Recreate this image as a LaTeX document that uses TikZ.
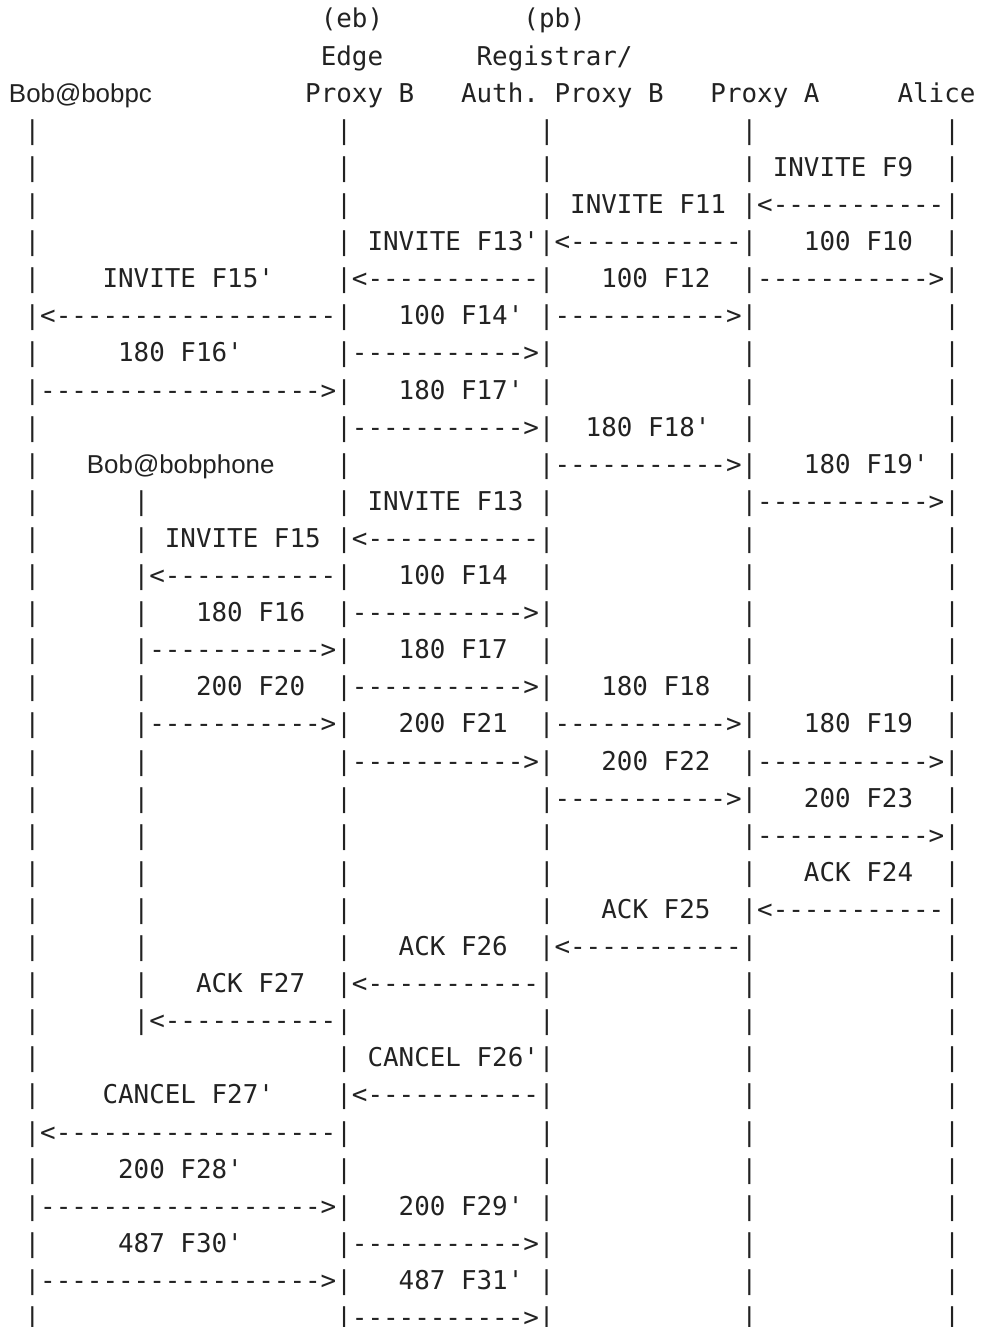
\documentclass[tikz,border=0pt]{standalone}
\usepackage{fontspec}
\setmonofont{DejaVu Sans Mono}
\newfontfamily\namefont{Liberation Sans}
\usepackage{tikz}

\definecolor{ink}{HTML}{222222}
\newlength\cw
\setlength\cw{7.794pt}
% a user name set in sans, padded to n columns
\newcommand\who[2]{\makebox[#1\cw][l]{\namefont{}#2}}
% one macro per text line of the flow
\newcommand\setrow[2]{\expandafter\gdef\csname row#1\endcsname{#2}}

\begingroup
\obeyspaces\global\let =\ %
\setrow{1}{                    (eb)         (pb)}%
\setrow{2}{                    Edge      Registrar/}%
\setrow{3}{\who{9}{Bob@bobpc}          Proxy B   Auth. Proxy B   Proxy A     Alice}%
\setrow{4}{ |                   |            |            |            |}%
\setrow{5}{ |                   |            |            | INVITE F9  |}%
\setrow{6}{ |                   |            | INVITE F11 |<-----------|}%
\setrow{7}{ |                   | INVITE F13'|<-----------|   100 F10  |}%
\setrow{8}{ |    INVITE F15'    |<-----------|   100 F12  |----------->|}%
\setrow{9}{ |<------------------|   100 F14' |----------->|            |}%
\setrow{10}{ |     180 F16'      |----------->|            |            |}%
\setrow{11}{ |------------------>|   180 F17' |            |            |}%
\setrow{12}{ |                   |----------->|  180 F18'  |            |}%
\setrow{13}{ |   \who{12}{Bob@bobphone}    |            |----------->|   180 F19' |}%
\setrow{14}{ |      |            | INVITE F13 |            |----------->|}%
\setrow{15}{ |      | INVITE F15 |<-----------|            |            |}%
\setrow{16}{ |      |<-----------|   100 F14  |            |            |}%
\setrow{17}{ |      |   180 F16  |----------->|            |            |}%
\setrow{18}{ |      |----------->|   180 F17  |            |            |}%
\setrow{19}{ |      |   200 F20  |----------->|   180 F18  |            |}%
\setrow{20}{ |      |----------->|   200 F21  |----------->|   180 F19  |}%
\setrow{21}{ |      |            |----------->|   200 F22  |----------->|}%
\setrow{22}{ |      |            |            |----------->|   200 F23  |}%
\setrow{23}{ |      |            |            |            |----------->|}%
\setrow{24}{ |      |            |            |            |   ACK F24  |}%
\setrow{25}{ |      |            |            |   ACK F25  |<-----------|}%
\setrow{26}{ |      |            |   ACK F26  |<-----------|            |}%
\setrow{27}{ |      |   ACK F27  |<-----------|            |            |}%
\setrow{28}{ |      |<-----------|            |            |            |}%
\setrow{29}{ |                   | CANCEL F26'|            |            |}%
\setrow{30}{ |    CANCEL F27'    |<-----------|            |            |}%
\setrow{31}{ |<------------------|            |            |            |}%
\setrow{32}{ |     200 F28'      |            |            |            |}%
\setrow{33}{ |------------------>|   200 F29' |            |            |}%
\setrow{34}{ |     487 F30'      |----------->|            |            |}%
\setrow{35}{ |------------------>|   487 F31' |            |            |}%
\setrow{36}{ |                   |----------->|            |            |}%
\endgroup

\begin{document}
\begin{tikzpicture}[x=0.5pt,y=-0.5pt,
  textrow/.style={anchor=base west,inner sep=0pt,text=ink,
    font=\ttfamily\fontsize{12.946pt}{18.55pt}\selectfont\frenchspacing}]
\useasboundingbox[fill=white] (0,0) rectangle (981,1327);
\foreach \n in {1,...,36}
  \node[textrow] (row\n) at (8.6,{28+(\n-1)*37.1}) {\csname row\n\endcsname};
\end{tikzpicture}
\end{document}
